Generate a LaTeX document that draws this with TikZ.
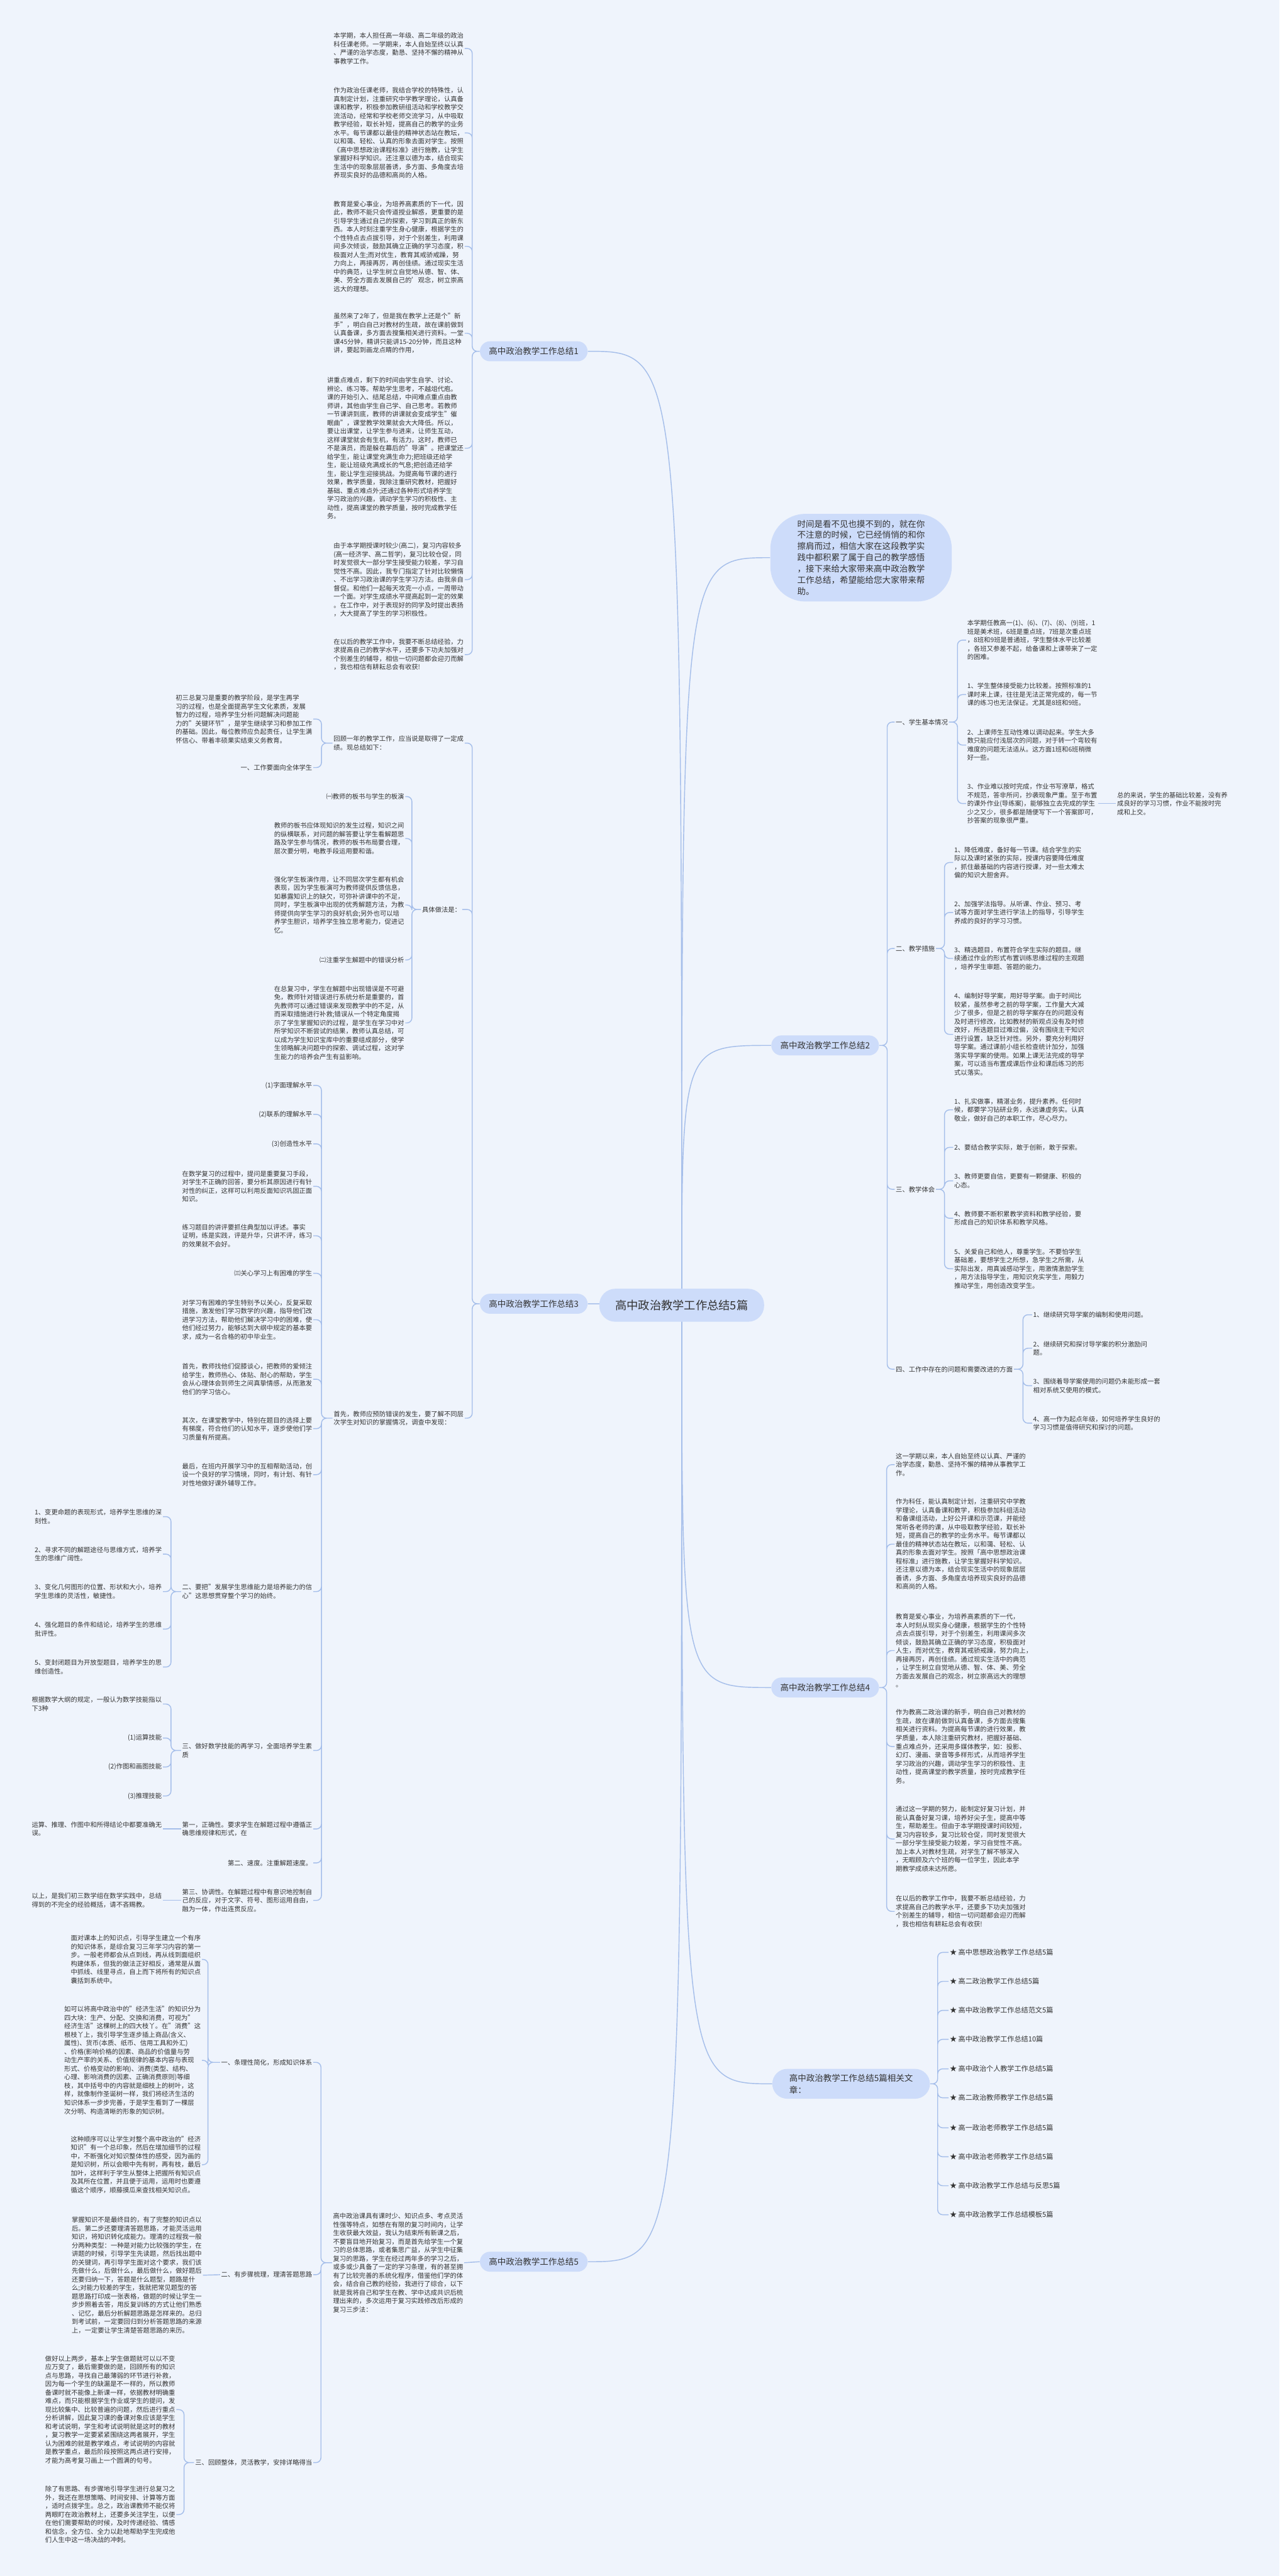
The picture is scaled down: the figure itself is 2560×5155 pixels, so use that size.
\documentclass[tikz,border=0pt]{standalone}
\usepackage{fontspec}
\setmainfont{Noto Sans CJK SC}
\usepackage{xcolor}
\usepackage{tikz}
\usetikzlibrary{calc}
\definecolor{MapBack}{RGB}{239, 244, 252}
\definecolor{MapNode}{RGB}{205, 220, 250}
\definecolor{MapLine}{RGB}{165, 190, 234}
\definecolor{MapText}{RGB}{51, 51, 51}
\pgfdeclarelayer{edges}
\pgfsetlayers{edges,main}
\tikzset{
  rootbox/.style={fill=MapNode, rounded corners=16pt, minimum height=33pt, inner xsep=16pt, text=MapText, font=\fontsize{11.5}{13}\selectfont},
  topic/.style={fill=MapNode, rounded corners=10pt, minimum height=20pt, inner xsep=9pt, text=MapText, font=\fontsize{8.5}{10}\selectfont},
  para/.style={align=left, inner sep=1pt, text=MapText, font=\fontsize{6.5}{8.5}\selectfont},
  link/.style={draw=MapLine, line width=0.9pt, rounded corners=5pt}
}

\begin{document}
\begin{tikzpicture}[x=0.5pt, y=-0.5pt]
    \useasboundingbox (0,0) rectangle (2560,5155);
    \begin{pgfonlayer}{edges}
    \fill[MapBack] (0,0) rectangle (2560,5155);
    \end{pgfonlayer}

    % Centre topic
    \node[rootbox] (root) at (1364,2612) {高中政治教学工作总结5篇};

    % Opening words
    \node[fill=MapNode, rounded corners=35pt, align=left, inner xsep=27pt, inner ysep=6pt, text=MapText, font=\fontsize{8.5}{11.3}\selectfont, anchor=west] (intro) at (1541,1116) {时间是看不见也摸不到的，就在你\\不注意的时候，它已经悄悄的和你\\擦肩而过，相信大家在这段教学实\\践中都积累了属于自己的教学感悟\\，接下来给大家带来高中政治教学\\工作总结，希望能给您大家带来帮\\助。};

    % Summary 1
    \node[topic] (t1) at (1068,703) {高中政治教学工作总结1};
    \node[para, anchor=east] (t1a) at (930,97) {本学期，本人担任高一年级、高二年级的政治\\科任课老师。一学期来，本人自始至终以认真\\、严谨的治学态度，勤恳、坚持不懈的精神从\\事教学工作。};
    \node[para, anchor=east] (t1b) at (930,266) {作为政治任课老师，我结合学校的特殊性，认\\真制定计划，注重研究中学教学理论，认真备\\课和教学，积极参加教研组活动和学校教学交\\流活动，经常和学校老师交流学习，从中吸取\\教学经验，取长补短，提高自己的教学的业务\\水平。每节课都以最佳的精神状态站在教坛，\\以和蔼、轻松、认真的形象去面对学生。按照\\《高中思想政治课程标准》进行施教，让学生\\掌握好科学知识。还注意以德为本，结合现实\\生活中的现象层层善诱，多方面、多角度去培\\养现实良好的品德和高尚的人格。};
    \node[para, anchor=east] (t1c) at (930,493) {教育是爱心事业，为培养高素质的下一代，因\\此，教师不能只会传道授业解惑，更重要的是\\引导学生通过自己的探索，学习到真正的新东\\西。本人时刻注重学生身心健康，根据学生的\\个性特点去点拔引导，对于个别差生，利用课\\间多次倾谈，鼓励其确立正确的学习态度，积\\极面对人生;而对优生，教育其戒骄戒躁，努\\力向上，再接再厉，再创佳绩。通过现实生活\\中的典范，让学生树立自觉地从德、智、体、\\美、劳全方面去发展自己的'观念，树立崇高\\远大的理想。};
    \node[para, anchor=east] (t1d) at (930,667) {虽然来了2年了，但是我在教学上还是个"新\\手"，明白自己对教材的生疏，故在课前做到\\认真备课，多方面去搜集相关进行资料。一堂\\课45分钟，精讲只能讲15-20分钟，而且这种\\讲，要起到画龙点睛的作用，};
    \node[para, anchor=east] (t1e) at (930,897) {讲重点难点，剩下的时间由学生自学、讨论、\\辨论、练习等。帮助学生思考，不越俎代庖。\\课的开始引入、结尾总结，中间难点重点由教\\师讲，其他由学生自己学、自己思考。若教师\\一节课讲到底，教师的讲课就会变成学生"催\\眠曲"，课堂教学效果就会大大降低。所以，\\要让出课堂，让学生参与进来，让师生互动，\\这样课堂就会有生机，有活力。这时，教师已\\不是演员，而是躲在幕后的"导演"。把课堂还\\给学生，能让课堂充满生命力;把班级还给学\\生，能让班级充满成长的气息;把创造还给学\\生，能让学生迎接挑战。为提高每节课的进行\\效果，教学质量，我除注重研究教材，把握好\\基础、重点难点外;还通过各种形式培养学生\\学习政治的兴趣，调动学生学习的积极性、主\\动性，提高课堂的教学质量，按时完成教学任\\务。};
    \node[para, anchor=east] (t1f) at (930,1160) {由于本学期授课时较少(高二)，复习内容较多\\(高一经济学、高二哲学)，复习比较仓促，同\\时发觉很大一部分学生接受能力较差，学习自\\觉性不高。因此，我专门指定了针对比较懒惰\\、不出学习政治课的学生学习方法。由我亲自\\督促。和他们一起每天攻克一小点，一周带动\\一个面。对学生成绩水平提高起到一定的效果\\。在工作中，对于表现好的同学及时提出表扬\\，大大提高了学生的学习积极性。};
    \node[para, anchor=east] (t1g) at (930,1310) {在以后的教学工作中，我要不断总结经验，力\\求提高自己的教学水平，还要多下功夫加强对\\个别差生的辅导，相信一切问题都会迎刃而解\\，我也相信有耕耘总会有收获!};

    % Summary 2
    \node[topic] (t2) at (1651,2092) {高中政治教学工作总结2};
    \node[para, anchor=west] (t2p1) at (1790,1445) {一、学生基本情况};
    \node[para, anchor=west] (t2p1a) at (1933,1281) {本学期任教高一(1)、(6)、(7)、(8)、(9)班，1\\班是美术班，6班是重点班，7班是次重点班\\，8班和9班是普通班，学生整体水平比较差\\，各班又参差不起，给备课和上课带来了一定\\的困难。};
    \node[para, anchor=west] (t2p1b) at (1933,1390) {1、学生整体接受能力比较差。按照标准的1\\课时来上课，往往是无法正常完成的，每一节\\课的练习也无法保证。尤其是8班和9班。};
    \node[para, anchor=west] (t2p1c) at (1933,1491) {2、上课师生互动性难以调动起来。学生大多\\数只能应付浅层次的问题，对于转一个弯较有\\难度的问题无法适从。这方面1班和6班稍微\\好一些。};
    \node[para, anchor=west] (t2p1d) at (1933,1608) {3、作业难以按时完成，作业书写潦草，格式\\不规范，答非所问，抄袭现象严重。至于布置\\的课外作业(导练案)，能够独立去完成的学生\\少之又少，很多都是随便写下一个答案即可，\\抄答案的现象很严重。};
    \node[para, anchor=west] (t2p1e) at (2233,1608) {总的来说，学生的基础比较差，没有养\\成良好的学习习惯，作业不能按时完\\成和上交。};
    \node[para, anchor=west] (t2p2) at (1790,1898) {二、教学措施};
    \node[para, anchor=west] (t2p2a) at (1907,1726) {1、降低难度，备好每一节课。结合学生的实\\际以及课时紧张的实际，授课内容要降低难度\\，抓住最基础的内容进行授课，对一些太难太\\偏的知识大胆舍弃。};
    \node[para, anchor=west] (t2p2b) at (1907,1826) {2、加强学法指导。从听课、作业、预习、考\\试等方面对学生进行学法上的指导，引导学生\\养成的良好的学习习惯。};
    \node[para, anchor=west] (t2p2c) at (1907,1918) {3、精选题目，布置符合学生实际的题目。继\\续通过作业的形式布置训练思维过程的主观题\\，培养学生审题、答题的能力。};
    \node[para, anchor=west] (t2p2d) at (1907,2070) {4、编制好导学案，用好导学案。由于时间比\\较紧，虽然参考之前的导学案，工作量大大减\\少了很多，但是之前的导学案存在的问题没有\\及时进行修改，比如教材的新观点没有及时修\\改好，所选题目过难过偏，没有围绕主干知识\\进行设置，缺乏针对性。另外，要充分利用好\\导学案。通过课前小组长检查统计加分，加强\\落实导学案的使用。如果上课无法完成的导学\\案，可以适当布置成课后作业和课后练习的形\\式以落实。};
    \node[para, anchor=west] (t2p3) at (1790,2380) {三、教学体会};
    \node[para, anchor=west] (t2p3a) at (1907,2221) {1、扎实做事，精湛业务，提升素养。任何时\\候，都要学习钻研业务，永远谦虚务实。认真\\敬业，做好自己的本职工作，尽心尽力。};
    \node[para, anchor=west] (t2p3b) at (1907,2296) {2、要结合教学实际，敢于创新，敢于探索。};
    \node[para, anchor=west] (t2p3c) at (1907,2363) {3、教师更要自信，更要有一颗健康、积极的\\心态。};
    \node[para, anchor=west] (t2p3d) at (1907,2438) {4、教师要不断积累教学资料和教学经验，要\\形成自己的知识体系和教学风格。};
    \node[para, anchor=west] (t2p3e) at (1907,2539) {5、关爱自己和他人，尊重学生。不要怕学生\\基础差，要想学生之所想，急学生之所需，从\\实际出发，用真诚感动学生，用激情激励学生\\，用方法指导学生，用知识充实学生，用毅力\\推动学生，用创造改变学生。};
    \node[para, anchor=west] (t2p4) at (1790,2740) {四、工作中存在的问题和需要改进的方面};
    \node[para, anchor=west] (t2p4a) at (2065,2631) {1、继续研究导学案的编制和使用问题。};
    \node[para, anchor=west] (t2p4b) at (2065,2698) {2、继续研究和探讨导学案的积分激励问\\题。};
    \node[para, anchor=west] (t2p4c) at (2065,2773) {3、围绕着导学案使用的问题仍未能形成一套\\相对系统又使用的模式。};
    \node[para, anchor=west] (t2p4d) at (2065,2848) {4、高一作为起点年级，如何培养学生良好的\\学习习惯是值得研究和探讨的问题。};

    % Summary 3
    \node[topic] (t3) at (1068,2609) {高中政治教学工作总结3};
    \node[para, anchor=east] (t3a) at (930,1487) {回顾一年的教学工作，应当说是取得了一定成\\绩。现总结如下：};
    \node[para, anchor=east] (t3a1) at (627,1439) {初三总复习是重要的教学阶段，是学生再学\\习的过程，也是全面提高学生文化素质，发展\\智力的过程，培养学生分析问题解决问题能\\力的"关键环节"，是学生继续学习和参加工作\\的基础。因此，每位教师应负起责任，让学生满\\怀信心、带着丰硕果实结束义务教育。};
    \node[para, anchor=east] (t3a2) at (627,1536) {一、工作要面向全体学生};
    \node[para, anchor=east] (t3b) at (925,1820) {具体做法是：};
    \node[para, anchor=east] (t3b1) at (811,1594) {㈠教师的板书与学生的板演};
    \node[para, anchor=east] (t3b2) at (811,1678) {教师的板书应体现知识的发生过程，知识之间\\的纵横联系，对问题的解答要让学生看解题思\\路及学生参与情况，教师的板书布局要合理，\\层次要分明，电教手段运用要和谐。};
    \node[para, anchor=east] (t3b3) at (811,1811) {强化学生板演作用，让不同层次学生都有机会\\表现，因为学生板演可为教师提供反馈信息，\\如暴露知识上的缺欠，可弥补讲课中的不足，\\同时，学生板演中出现的优秀解题方法，为教\\师提供向学生学习的良好机会;另外也可以培\\养学生胆识，培养学生独立思考能力，促进记\\忆。};
    \node[para, anchor=east] (t3b4) at (811,1921) {㈡注重学生解题中的错误分析};
    \node[para, anchor=east] (t3b5) at (811,2047) {在总复习中，学生在解题中出现错误是不可避\\免，教师针对错误进行系统分析是重要的，首\\先教师可以通过错误来发现教学中的不足，从\\而采取措施进行补救;错误从一个特定角度揭\\示了学生掌握知识的过程，是学生在学习中对\\所学知识不断尝试的结果，教师认真总结，可\\以成为学生知识宝库中的重要组成部分，使学\\生领略解决问题中的探索、调试过程，这对学\\生能力的培养会产生有益影响。};
    \node[para, anchor=east] (t3c) at (930,2838) {首先，教师应预防错误的发生，要了解不同层\\次学生对知识的掌握情况，调查中发现：};
    \node[para, anchor=east] (t3c1) at (627,2172) {(1)字面理解水平};
    \node[para, anchor=east] (t3c2) at (627,2230) {(2)联系的理解水平};
    \node[para, anchor=east] (t3c3) at (627,2289) {(3)创造性水平};
    \node[para, anchor=east] (t3c4) at (627,2374) {在数学复习的过程中，提问是重要复习手段，\\对学生不正确的回答，要分析其原因进行有针\\对性的纠正，这样可以利用反面知识巩固正面\\知识。};
    \node[para, anchor=east] (t3c5) at (627,2473) {练习题目的讲评要抓住典型加以评述。事实\\证明，练是实践，评是升华，只讲不评，练习\\的效果就不会好。};
    \node[para, anchor=east] (t3c6) at (627,2548) {㈢关心学习上有困难的学生};
    \node[para, anchor=east] (t3c7) at (627,2641) {对学习有困难的学生特别予以关心，反复采取\\措施，激发他们学习数学的兴趣，指导他们改\\进学习方法，帮助他们解决学习中的困难，使\\他们经过努力，能够达到大纲中规定的基本要\\求，成为一名合格的初中毕业生。};
    \node[para, anchor=east] (t3c8) at (627,2760) {首先，教师找他们促膝谈心，把教师的爱倾注\\给学生，教师热心、体贴、耐心的帮助，学生\\会从心理体会到师生之间真挚情感，从而激发\\他们的学习信心。};
    \node[para, anchor=east] (t3c9) at (627,2859) {其次，在课堂教学中，特别在题目的选择上要\\有梯度，符合他们的认知水平，逐步使他们学\\习质量有所提高。};
    \node[para, anchor=east] (t3c10) at (627,2951) {最后，在班内开展学习中的互相帮助活动，创\\设一个良好的学习情境，同时，有计划、有针\\对性地做好课外辅导工作。};
    \node[para, anchor=east] (t3c11) at (627,3185) {二、要把"发展学生思维能力是培养能力的信\\心"这思想贯穿整个学习的始终。};
    \node[para, anchor=east] (t3c11a) at (326,3035) {1、变更命题的表现形式，培养学生思维的深\\刻性。};
    \node[para, anchor=east] (t3c11b) at (326,3110) {2、寻求不同的解题途径与思维方式，培养学\\生的思维广阔性。};
    \node[para, anchor=east] (t3c11c) at (326,3185) {3、变化几何图形的位置、形状和大小，培养\\学生思维的灵活性，敏捷性。};
    \node[para, anchor=east] (t3c11d) at (326,3260) {4、强化题目的条件和结论，培养学生的思维\\批评性。};
    \node[para, anchor=east] (t3c11e) at (326,3336) {5、变封闭题目为开放型题目，培养学生的思\\维创造性。};
    \node[para, anchor=east] (t3c12) at (627,3503) {三、做好数学技能的再学习，全面培养学生素\\质};
    \node[para, anchor=east] (t3c12a) at (326,3410) {根据数学大纲的规定，一般认为数学技能指以\\下3种};
    \node[para, anchor=east] (t3c12b) at (326,3478) {(1)运算技能};
    \node[para, anchor=east] (t3c12c) at (326,3536) {(2)作图和画图技能};
    \node[para, anchor=east] (t3c12d) at (326,3594) {(3)推理技能};
    \node[para, anchor=east] (t3c13) at (627,3660) {第一，正确性。要求学生在解题过程中遵循正\\确思维规律和形式，在};
    \node[para, anchor=east] (t3c13a) at (326,3660) {运算、推理、作图中和所得结论中都要准确无\\误。};
    \node[para, anchor=east] (t3c14) at (627,3728) {第二、速度。注重解题速度。};
    \node[para, anchor=east] (t3c15) at (627,3803) {第三、协调性。在解题过程中有意识地控制自\\己的反应，对于文字、符号、图形运用自由，\\融为一体，作出连贯反应。};
    \node[para, anchor=east] (t3c15a) at (326,3803) {以上，是我们初三数学组在数学实践中，总结\\得到的不完全的经验概括，请不吝赐教。};

    % Summary 4
    \node[topic] (t4) at (1651,3377) {高中政治教学工作总结4};
    \node[para, anchor=west] (t4a) at (1790,2931) {这一学期以来，本人自始至终以认真、严谨的\\治学态度，勤恳、坚持不懈的精神从事教学工\\作。};
    \node[para, anchor=west] (t4b) at (1790,3090) {作为科任，能认真制定计划，注重研究中学教\\学理论，认真备课和教学，积极参加科组活动\\和备课组活动，上好公开课和示范课，并能经\\常听各老师的课，从中吸取教学经验，取长补\\短，提高自己的教学的业务水平。每节课都以\\最佳的精神状态站在教坛，以和蔼、轻松、认\\真的形象去面对学生。按照「高中思想政治课\\程标准」进行施教，让学生掌握好科学知识。\\还注意以德为本，结合现实生活中的现象层层\\善诱，多方面、多角度去培养现实良好的品德\\和高尚的人格。};
    \node[para, anchor=west] (t4c) at (1790,3303) {教育是爱心事业，为培养高素质的下一代，\\本人时刻从现实身心健康，根据学生的个性特\\点去点拔引导，对于个别差生，利用课间多次\\倾谈，鼓励其确立正确的学习态度，积极面对\\人生，而对优生，教育其戒骄戒躁，努力向上，\\再接再厉，再创佳绩。通过现实生活中的典范\\，让学生树立自觉地从德、智、体、美、劳全\\方面去发展自己的观念，树立崇高远大的理想\\。};
    \node[para, anchor=west] (t4d) at (1790,3495) {作为教高二政治课的新手，明白自己对教材的\\生疏，故在课前做到认真备课，多方面去搜集\\相关进行资料。为提高每节课的进行效果，教\\学质量，本人除注重研究教材，把握好基础、\\重点难点外，还采用多媒体教学，如：投影、\\幻灯、漫画、录音等多样形式，从而培养学生\\学习政治的兴趣，调动学生学习的积极性、主\\动性，提高课堂的教学质量，按时完成教学任\\务。};
    \node[para, anchor=west] (t4e) at (1790,3680) {通过这一学期的努力，能制定好复习计划，并\\能认真备好复习课，培养好尖子生，提高中等\\生，帮助差生。但由于本学期授课时间较短，\\复习内容较多，复习比较仓促，同时发觉很大\\一部分学生接受能力较差，学习自觉性不高。\\加上本人对教材生疏，对学生了解不够深入\\，无暇顾及六个班的每一位学生，因此本学\\期教学成绩未达所愿。};
    \node[para, anchor=west] (t4f) at (1790,3825) {在以后的教学工作中，我要不断总结经验，力\\求提高自己的教学水平，还要多下功夫加强对\\个别差生的辅导，相信一切问题都会迎刃而解\\，我也相信有耕耘总会有收获!};

    % Related articles
    \node[topic, align=left, rounded corners=15pt, inner xsep=17pt, inner ysep=5pt, font=\fontsize{8.5}{12}\selectfont] (rel) at (1703,4170) {高中政治教学工作总结5篇相关文\\章：};
    \node[para, anchor=west, font=\fontsize{7}{8.5}\selectfont] (rel1) at (1898,3907) {★ 高中思想政治教学工作总结5篇};
    \node[para, anchor=west, font=\fontsize{7}{8.5}\selectfont] (rel2) at (1898,3965) {★ 高二政治教学工作总结5篇};
    \node[para, anchor=west, font=\fontsize{7}{8.5}\selectfont] (rel3) at (1898,4023) {★ 高中政治教学工作总结范文5篇};
    \node[para, anchor=west, font=\fontsize{7}{8.5}\selectfont] (rel4) at (1898,4081) {★ 高中政治教学工作总结10篇};
    \node[para, anchor=west, font=\fontsize{7}{8.5}\selectfont] (rel5) at (1898,4140) {★ 高中政治个人教学工作总结5篇};
    \node[para, anchor=west, font=\fontsize{7}{8.5}\selectfont] (rel6) at (1898,4198) {★ 高二政治教师教学工作总结5篇};
    \node[para, anchor=west, font=\fontsize{7}{8.5}\selectfont] (rel7) at (1898,4258) {★ 高一政治老师教学工作总结5篇};
    \node[para, anchor=west, font=\fontsize{7}{8.5}\selectfont] (rel8) at (1898,4316) {★ 高中政治老师教学工作总结5篇};
    \node[para, anchor=west, font=\fontsize{7}{8.5}\selectfont] (rel9) at (1898,4374) {★ 高中政治教学工作总结与反思5篇};
    \node[para, anchor=west, font=\fontsize{7}{8.5}\selectfont] (rel10) at (1898,4432) {★ 高中政治教学工作总结模板5篇};

    % Summary 5
    \node[topic] (t5) at (1068,4526) {高中政治教学工作总结5};
    \node[para, anchor=east] (t5a) at (929,4528) {高中政治课具有课时少、知识点多、考点灵活\\性强等特点，如想在有限的复习时间内，让学\\生收获最大效益，我认为结束所有新课之后，\\不要盲目地开始复习，而是首先给学生一个复\\习的总体思路，或者集思广益，从学生中征集\\复习的思路，学生在经过两年多的学习之后，\\或多或少具备了一定的学习条理，有的甚至拥\\有了比较完善的系统化程序，借鉴他们学的体\\会，结合自己教的经验，我进行了综合，以下\\就是我将自己和学生在教、学中达成共识后梳\\理出来的，多次运用于复习实践修改后形成的\\复习三步法：};
    \node[para, anchor=east] (t5p1) at (627,4127) {一、条理性简化，形成知识体系};
    \node[para, anchor=east] (t5p1a) at (404,3921) {面对课本上的知识点，引导学生建立一个有序\\的知识体系，是综合复习三年学习内容的第一\\步。一般老师都会从点到线，再从线到面组织\\构建体系，但我的做法正好相反，通常是从面\\中抓线、线里寻点，自上而下将所有的知识点\\囊括到系统中。};
    \node[para, anchor=east] (t5p1b) at (404,4123) {如可以将高中政治中的"经济生活"的知识分为\\四大块：生产、分配、交换和消费，可视为"\\经济生活"这棵树上的四大枝丫。在"消费"这\\根枝丫上，我引导学生逐步插上商品(含义、\\属性)、货币(本质、纸币、信用工具和外汇)\\、价格(影响价格的因素、商品的价值量与劳\\动生产率的关系、价值规律的基本内容与表现\\形式、价格变动的影响)、消费(类型、结构、\\心理、影响消费的因素、正确消费原则)等细\\枝，其中括号中的内容就是细枝上的树叶，这\\样，就像制作圣诞树一样，我们将经济生活的\\知识体系一步步完善，于是学生看到了一棵层\\次分明、构造清晰的形象的知识树。};
    \node[para, anchor=east] (t5p1c) at (404,4332) {这种顺序可以让学生对整个高中政治的"经济\\知识"有一个总印象，然后在增加细节的过程\\中，不断强化对知识整体性的感受，因为画的\\是知识树，所以会眼中先有树，再有枝，最后\\加叶，这样利于学生从整体上把握所有知识点\\及其所在位置，并且便于运用，运用时也要遵\\循这个顺序，顺藤摸瓜来查找相关知识点。};
    \node[para, anchor=east] (t5p2) at (627,4552) {二、有步骤梳理，理清答题思路};
    \node[para, anchor=east] (t5p2a) at (406,4553) {掌握知识不是最终目的，有了完整的知识点以\\后。第二步还要理清答题思路，才能灵活运用\\知识，将知识转化成能力。理清的过程我一般\\分两种类型：一种是对能力比较强的学生，在\\讲题的时候，引导学生先读题，然后找出题中\\的关键词，再引导学生面对这个要求，我们该\\先做什么，后做什么，最后做什么，做好题后\\还要归纳一下，答题是什么题型，题路是什\\么;对能力较差的学生，我就把常见题型的答\\题思路打印成一张表格，做题的时候让学生一\\步步照着去答，用反复训练的方式让他们熟悉\\、记忆，最后分析解题思路是怎样来的。总归\\到考试前，一定要回归到分析答题思路的来源\\上，一定要让学生清楚答题思路的来历。};
    \node[para, anchor=east] (t5p3) at (627,4928) {三、回顾整体，灵活教学，安排详略得当};
    \node[para, anchor=east] (t5p3a) at (353,4822) {做好以上两步，基本上学生做题就可以以不变\\应万变了，最后需要做的是，回顾所有的知识\\点与思路，寻找自己最薄弱的环节进行补救，\\因为每一个学生的缺漏是不一样的，所以教师\\备课时就不能像上新课一样，依据教材明确重\\难点，而只能根据学生作业或学生的提问，发\\现比较集中、比较普遍的问题，然后进行重点\\分析讲解，因此复习课的备课对象应该是学生\\和考试说明，学生和考试说明就是这时的教材\\，复习教学一定要紧紧围绕这两者展开，学生\\认为困难的就是教学难点，考试说明的内容就\\是教学重点，最后阶段按照这两点进行安排，\\才能为高考复习画上一个圆满的句号。};
    \node[para, anchor=east] (t5p3b) at (353,5032) {除了有思路、有步骤地引导学生进行总复习之\\外，我还在思想策略、时间安排、计算等方面\\，适时点拨学生。总之，政治课教师不能仅将\\两眼盯在政治教材上，还要多关注学生，以便\\在他们需要帮助的时候，及时传递经验、情感\\和信念，全方位、全力以赴地帮助学生完成他\\们人生中这一场决战的冲刺。};

    % Connectors
    \begin{pgfonlayer}{edges}
    \draw[link] (root.center) .. controls (root.center |- intro.west) .. (intro.west);
    \draw[link] (root.center) .. controls (root.center |- t1.east) .. (t1.east);
    \draw[link] (root.center) .. controls (root.center |- t2.west) .. (t2.west);
    \draw[link] (root.center) .. controls (root.center |- t3.east) .. (t3.east);
    \draw[link] (root.center) .. controls (root.center |- t4.west) .. (t4.west);
    \draw[link] (root.center) .. controls (root.center |- rel.west) .. (rel.west);
    \draw[link] (root.center) .. controls (root.center |- t5.east) .. (t5.east);

    \draw[link] (t1.west) -- ++(-15,0) |- (t1a.east) (t1.west) -- ++(-15,0) |- (t1b.east)
                (t1.west) -- ++(-15,0) |- (t1c.east) (t1.west) -- ++(-15,0) |- (t1d.east)
                (t1.west) -- ++(-15,0) |- (t1e.east) (t1.west) -- ++(-15,0) |- (t1f.east)
                (t1.west) -- ++(-15,0) |- (t1g.east);

    \draw[link] (t2.east) -- ++(16,0) |- (t2p1.west) (t2.east) -- ++(16,0) |- (t2p2.west)
                (t2.east) -- ++(16,0) |- (t2p3.west) (t2.east) -- ++(16,0) |- (t2p4.west);
    \draw[link] (t2p1.east) -- ++(17,0) |- (t2p1a.west) (t2p1.east) -- ++(17,0) |- (t2p1b.west)
                (t2p1.east) -- ++(17,0) |- (t2p1c.west) (t2p1.east) -- ++(17,0) |- (t2p1d.west);
    \draw[link] (t2p1d.east) -- (t2p1e.west);
    \draw[link] (t2p2.east) -- ++(17,0) |- (t2p2a.west) (t2p2.east) -- ++(17,0) |- (t2p2b.west)
                (t2p2.east) -- ++(17,0) |- (t2p2c.west) (t2p2.east) -- ++(17,0) |- (t2p2d.west);
    \draw[link] (t2p3.east) -- ++(17,0) |- (t2p3a.west) (t2p3.east) -- ++(17,0) |- (t2p3b.west)
                (t2p3.east) -- ++(17,0) |- (t2p3c.west) (t2p3.east) -- ++(17,0) |- (t2p3d.west)
                (t2p3.east) -- ++(17,0) |- (t2p3e.west);
    \draw[link] (t2p4.east) -- ++(18,0) |- (t2p4a.west) (t2p4.east) -- ++(18,0) |- (t2p4b.west)
                (t2p4.east) -- ++(18,0) |- (t2p4c.west) (t2p4.east) -- ++(18,0) |- (t2p4d.west);

    \draw[link] (t3.west) -- ++(-15,0) |- (t3a.east) (t3.west) -- ++(-15,0) |- (t3b.east)
                (t3.west) -- ++(-15,0) |- (t3c.east);
    \draw[link] (t3a.west) -- ++(-22,0) |- (t3a1.east) (t3a.west) -- ++(-22,0) |- (t3a2.east);
    \draw[link] (t3b.west) -- ++(-18,0) |- (t3b1.east) (t3b.west) -- ++(-18,0) |- (t3b2.east)
                (t3b.west) -- ++(-18,0) |- (t3b3.east) (t3b.west) -- ++(-18,0) |- (t3b4.east)
                (t3b.west) -- ++(-18,0) |- (t3b5.east);
    \draw[link] (t3c.west) -- ++(-22,0) |- (t3c1.east) (t3c.west) -- ++(-22,0) |- (t3c2.east)
                (t3c.west) -- ++(-22,0) |- (t3c3.east) (t3c.west) -- ++(-22,0) |- (t3c4.east)
                (t3c.west) -- ++(-22,0) |- (t3c5.east) (t3c.west) -- ++(-22,0) |- (t3c6.east)
                (t3c.west) -- ++(-22,0) |- (t3c7.east) (t3c.west) -- ++(-22,0) |- (t3c8.east)
                (t3c.west) -- ++(-22,0) |- (t3c9.east) (t3c.west) -- ++(-22,0) |- (t3c10.east)
                (t3c.west) -- ++(-22,0) |- (t3c11.east) (t3c.west) -- ++(-22,0) |- (t3c12.east)
                (t3c.west) -- ++(-22,0) |- (t3c13.east) (t3c.west) -- ++(-22,0) |- (t3c14.east)
                (t3c.west) -- ++(-22,0) |- (t3c15.east);
    \draw[link] (t3c11.west) -- ++(-20,0) |- (t3c11a.east) (t3c11.west) -- ++(-20,0) |- (t3c11b.east)
                (t3c11.west) -- ++(-20,0) |- (t3c11c.east) (t3c11.west) -- ++(-20,0) |- (t3c11d.east)
                (t3c11.west) -- ++(-20,0) |- (t3c11e.east);
    \draw[link] (t3c12.west) -- ++(-20,0) |- (t3c12a.east) (t3c12.west) -- ++(-20,0) |- (t3c12b.east)
                (t3c12.west) -- ++(-20,0) |- (t3c12c.east) (t3c12.west) -- ++(-20,0) |- (t3c12d.east);
    \draw[link] (t3c13.west) -- (t3c13a.east);
    \draw[link] (t3c15.west) -- (t3c15a.east);

    \draw[link] (t4.east) -- ++(15,0) |- (t4a.west) (t4.east) -- ++(15,0) |- (t4b.west)
                (t4.east) -- ++(15,0) |- (t4c.west) (t4.east) -- ++(15,0) |- (t4d.west)
                (t4.east) -- ++(15,0) |- (t4e.west) (t4.east) -- ++(15,0) |- (t4f.west);

    \draw[link] (rel.east) -- ++(15,0) |- (rel1.west) (rel.east) -- ++(15,0) |- (rel2.west)
                (rel.east) -- ++(15,0) |- (rel3.west) (rel.east) -- ++(15,0) |- (rel4.west)
                (rel.east) -- ++(15,0) |- (rel5.west) (rel.east) -- ++(15,0) |- (rel6.west)
                (rel.east) -- ++(15,0) |- (rel7.west) (rel.east) -- ++(15,0) |- (rel8.west)
                (rel.east) -- ++(15,0) |- (rel9.west) (rel.east) -- ++(15,0) |- (rel10.west);

    \draw[link] (t5.west) -- (t5a.east);
    \draw[link] (t5a.west) -- ++(-22,0) |- (t5p1.east) (t5a.west) -- ++(-22,0) |- (t5p2.east)
                (t5a.west) -- ++(-22,0) |- (t5p3.east);
    \draw[link] (t5p1.west) -- ++(-24,0) |- (t5p1a.east) (t5p1.west) -- ++(-24,0) |- (t5p1b.east)
                (t5p1.west) -- ++(-24,0) |- (t5p1c.east);
    \draw[link] (t5p2.west) -- (t5p2a.east);
    \draw[link] (t5p3.west) -- ++(-20,0) |- (t5p3a.east) (t5p3.west) -- ++(-20,0) |- (t5p3b.east);
    \end{pgfonlayer}
\end{tikzpicture}
\end{document}
